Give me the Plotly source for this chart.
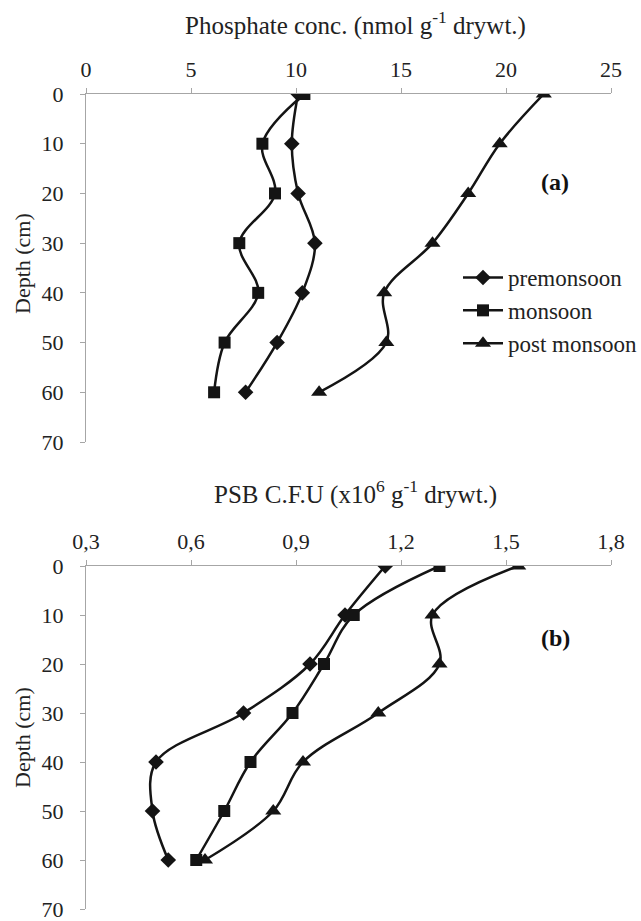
import plotly.graph_objects as go

depth = [0, 10, 20, 30, 40, 50, 60]

# Panel (a): Phosphate conc. (nmol g-1 drywt.)
phos_pre = [10.1, 9.8, 10.1, 10.9, 10.3, 9.1, 7.6]
phos_mon = [10.4, 8.4, 9.0, 7.3, 8.2, 6.6, 6.1]
phos_post = [21.8, 19.7, 18.2, 16.5, 14.2, 14.3, 11.1]

# Panel (b): PSB C.F.U (x10^6 g-1 drywt.)
psb_pre = [1.155, 1.04, 0.94, 0.75, 0.50, 0.49, 0.535]
psb_mon = [1.31, 1.065, 0.98, 0.89, 0.77, 0.695, 0.615]
psb_post = [1.535, 1.29, 1.31, 1.135, 0.92, 0.835, 0.64]

series_names = ["premonsoon", "monsoon", "post monsoon"]
symbols = ["diamond", "square", "triangle-up"]
sizes = [12, 12, 14]

x_ticks_a = [0, 5, 10, 15, 20, 25]
x_ticks_b = [0.3, 0.6, 0.9, 1.2, 1.5, 1.8]
x_ticktext_b = ["0,3", "0,6", "0,9", "1,2", "1,5", "1,8"]
y_ticks = [0, 10, 20, 30, 40, 50, 60, 70]

FONT = "Liberation Serif"
LC = "#141414"
AX = "#a6a6a6"
TXT = "#222"

fig = go.Figure()

for i, (name, vals) in enumerate(zip(series_names, [phos_pre, phos_mon, phos_post])):
    fig.add_trace(go.Scatter(
        x=vals, y=depth, name=name, mode="lines+markers",
        line=dict(color=LC, width=2.5, shape="spline", smoothing=1.0),
        marker=dict(symbol=symbols[i], size=sizes[i], color=LC),
        xaxis="x", yaxis="y", legendgroup=name, showlegend=True,
    ))

for i, (name, vals) in enumerate(zip(series_names, [psb_pre, psb_mon, psb_post])):
    fig.add_trace(go.Scatter(
        x=vals, y=depth, name=name, mode="lines+markers",
        line=dict(color=LC, width=2.5, shape="spline", smoothing=1.0),
        marker=dict(symbol=symbols[i], size=sizes[i], color=LC),
        xaxis="x2", yaxis="y2", legendgroup=name, showlegend=False,
    ))

axis_common = dict(
    showline=True, linecolor=AX, linewidth=1,
    ticks="outside", tickcolor=AX, ticklen=5, tickwidth=1,
    showgrid=False, zeroline=False, automargin=False,
    ticklabeloverflow="allow",
    tickfont=dict(family=FONT, size=22, color=TXT),
)

H = 921
top_m, bot_m = 94, 12
ph = H - top_m - bot_m


def py(pix):
    return (H - bot_m - pix) / ph


def px(pix):
    return (pix - 86) / 525


fig.update_layout(
    width=641, height=921,
    margin=dict(l=86, r=30, t=top_m, b=bot_m, autoexpand=False),
    paper_bgcolor="white", plot_bgcolor="white",
    font=dict(family=FONT, color=TXT),
    xaxis=dict(domain=[0, 1], anchor="y", side="top", range=[0, 25],
               tickvals=x_ticks_a, ticklabelstandoff=2, **axis_common),
    yaxis=dict(domain=[py(442), 1], anchor="x", range=[70, 0],
               tickvals=y_ticks, ticklabelstandoff=12, **axis_common),
    xaxis2=dict(domain=[0, 1], anchor="y2", side="top", range=[0.3, 1.8],
                tickvals=x_ticks_b, ticktext=x_ticktext_b, ticklabelstandoff=2, **axis_common),
    yaxis2=dict(domain=[0, py(566)], anchor="x2", range=[70, 0],
                tickvals=y_ticks, ticklabelstandoff=12, **axis_common),
    showlegend=True,
    legend=dict(
        x=px(458), y=py(256), xanchor="left", yanchor="top",
        font=dict(family=FONT, size=23, color=TXT),
        bgcolor="rgba(0,0,0,0)", traceorder="grouped", tracegroupgap=0,
        itemwidth=40,
    ),
    annotations=[
        dict(text="Phosphate conc. (nmol g<sup>-1</sup> drywt.)", xref="paper", yref="paper",
             x=px(355), y=py(23), xanchor="center", yanchor="middle", showarrow=False,
             font=dict(family=FONT, size=25, color=TXT)),
        dict(text="PSB C.F.U (x10<sup>6</sup> g<sup>-1</sup> drywt.)", xref="paper", yref="paper",
             x=px(355), y=py(493), xanchor="center", yanchor="middle", showarrow=False,
             font=dict(family=FONT, size=25, color=TXT)),
        dict(text="Depth (cm)", xref="paper", yref="paper", textangle=-90,
             x=px(22), y=py(264), xanchor="center", yanchor="middle", showarrow=False,
             font=dict(family=FONT, size=22, color=TXT)),
        dict(text="Depth (cm)", xref="paper", yref="paper", textangle=-90,
             x=px(22), y=py(738), xanchor="center", yanchor="middle", showarrow=False,
             font=dict(family=FONT, size=22, color=TXT)),
        dict(text="<b>(a)</b>", xref="paper", yref="paper",
             x=px(555), y=py(182), xanchor="center", yanchor="middle", showarrow=False,
             font=dict(family=FONT, size=24, color="#111")),
        dict(text="<b>(b)</b>", xref="paper", yref="paper",
             x=px(555), y=py(638), xanchor="center", yanchor="middle", showarrow=False,
             font=dict(family=FONT, size=24, color="#111")),
    ],
)

fig.write_html("out.html")
